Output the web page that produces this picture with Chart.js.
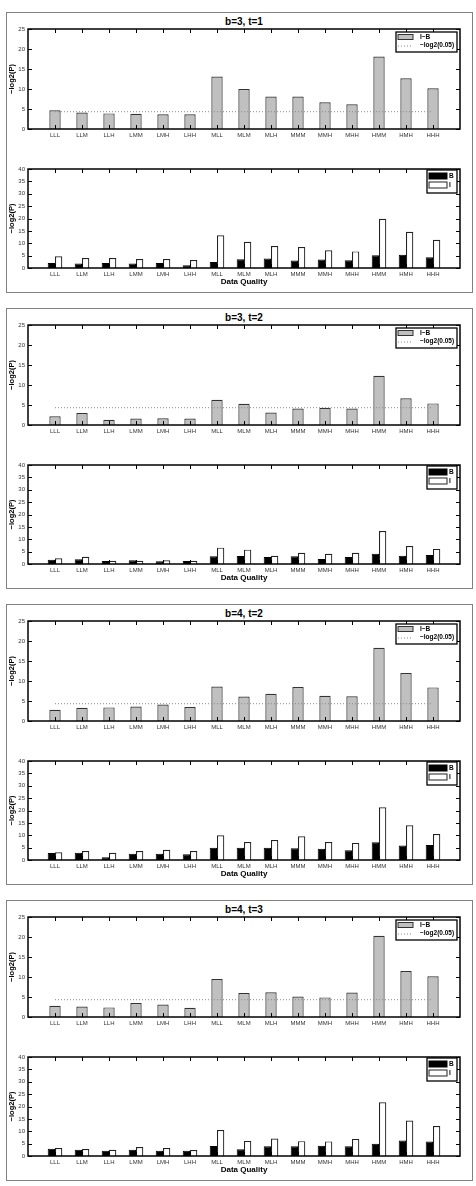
<!DOCTYPE html>
<html>
<head>
<meta charset="utf-8">
<script src="https://cdn.jsdelivr.net/npm/chart.js@4/dist/chart.umd.min.js"></script>
<style>
body { margin: 0; background: #fff; width: 476px; height: 1186px; position: relative; overflow: hidden; font-family: "Liberation Sans", Arial, sans-serif; }
.panel { position: absolute; left: 6px; width: 467px; height: 281px; border: 1.5px solid #808080; box-sizing: border-box; }
.ptitle { position: absolute; left: 28px; width: 432px; text-align: center; font-weight: bold; font-size: 10px; line-height: 12px; }
canvas { position: absolute; left: 0; }
</style>
</head>
<body>
<script>
//------------------------------------
// Data
//------------------------------------

const categories = ["LLL", "LLM", "LLH", "LMM", "LMH", "LHH", "MLL", "MLM", "MLH", "MMM", "MMH", "MHH", "HMM", "HMH", "HHH"];

const panelTitles = ["b=3, t=1", "b=3, t=2", "b=4, t=2", "b=4, t=3"];

// I-B (top charts)
const iMinusB_b3t1 = [4.7, 4.1, 3.9, 3.8, 3.7, 3.7, 13.1, 10.0, 8.1, 8.1, 6.7, 6.2, 18.1, 12.7, 10.2];
const iMinusB_b3t2 = [2.2, 3.0, 1.3, 1.6, 1.7, 1.6, 6.3, 5.3, 3.1, 4.1, 4.3, 4.1, 12.3, 6.7, 5.4];
const iMinusB_b4t2 = [2.8, 3.3, 3.4, 3.6, 4.1, 3.5, 8.6, 6.1, 6.8, 8.5, 6.3, 6.2, 18.3, 12.0, 8.4];
const iMinusB_b4t3 = [2.8, 2.6, 2.4, 3.5, 3.1, 2.3, 9.5, 6.0, 6.2, 5.1, 4.9, 6.1, 20.3, 11.5, 10.2];

// B and I (bottom charts)
const bVals_b3t1 = [2.0, 1.8, 2.0, 1.8, 2.0, 1.1, 2.4, 3.5, 3.8, 3.0, 3.4, 3.1, 5.2, 5.4, 4.3];
const iVals_b3t1 = [4.7, 4.0, 4.0, 3.6, 3.6, 3.2, 13.2, 10.6, 8.9, 8.5, 7.2, 6.7, 19.9, 14.6, 11.4];
const bVals_b3t2 = [1.7, 1.9, 1.2, 1.5, 1.1, 1.2, 3.1, 3.2, 2.8, 3.1, 2.0, 2.8, 4.1, 3.3, 3.6];
const iVals_b3t2 = [2.3, 2.9, 1.3, 1.3, 1.5, 1.3, 6.6, 5.8, 3.3, 4.5, 4.1, 4.5, 13.3, 7.3, 6.1];
const bVals_b4t2 = [2.8, 2.9, 1.1, 2.5, 2.5, 2.3, 4.9, 4.9, 4.9, 4.7, 4.5, 3.9, 7.2, 5.9, 6.1];
const iVals_b4t2 = [3.1, 3.6, 2.9, 3.6, 4.1, 3.6, 10.0, 7.3, 8.1, 9.6, 7.3, 6.9, 21.3, 14.0, 10.5];
const bVals_b4t3 = [2.9, 2.5, 2.1, 2.5, 2.1, 2.1, 4.0, 2.7, 3.9, 3.9, 4.1, 3.9, 4.9, 6.3, 5.9];
const iVals_b4t3 = [3.2, 2.8, 2.5, 3.6, 3.2, 2.4, 10.5, 6.1, 7.1, 6.0, 5.9, 6.9, 21.7, 14.3, 12.1];

const threshold = -Math.log2(0.05);

const panels = [
    { title: panelTitles[0], diff: iMinusB_b3t1, b: bVals_b3t1, i: iVals_b3t1 },
    { title: panelTitles[1], diff: iMinusB_b3t2, b: bVals_b3t2, i: iVals_b3t2 },
    { title: panelTitles[2], diff: iMinusB_b4t2, b: bVals_b4t2, i: iVals_b4t2 },
    { title: panelTitles[3], diff: iMinusB_b4t3, b: bVals_b4t3, i: iVals_b4t3 }
];

//------------------------------------
// Helpers
//------------------------------------

const FONT = "'Liberation Sans', Arial, sans-serif";

// matlab style xlim [0,16]: empty slot at each end
const paddedLabels = [""].concat(categories, [""]);

function pad(arr) {
    return [null].concat(arr, [null]);
}

function line(ctx, x1, y1, x2, y2) {
    ctx.beginPath();
    ctx.moveTo(x1, y1);
    ctx.lineTo(x2, y2);
    ctx.stroke();
}

//------------------------------------
// Matlab-like frame, inward ticks and legend
//------------------------------------

const matlabAxes = {
    id: "matlabAxes",
    afterDatasetsDraw(chart, args, opts) {
        const ctx = chart.ctx;
        const a = chart.chartArea;
        const x = chart.scales.x;
        const y = chart.scales.y;

        ctx.save();
        ctx.strokeStyle = "#000";
        ctx.lineWidth = 1;

        y.ticks.forEach(function (t) {
            const py = Math.round(y.getPixelForValue(t.value)) + 0.5;
            line(ctx, a.left, py, a.left + 4, py);
            line(ctx, a.right - 4, py, a.right, py);
        });

        categories.forEach(function (c, i) {
            const px = Math.round(x.getPixelForValue(i + 1)) + 0.5;
            line(ctx, px, a.top, px, a.top + 4);
            line(ctx, px, a.bottom - 4, px, a.bottom);
        });

        ctx.lineWidth = 1.5;
        ctx.strokeRect(a.left, a.top, a.right - a.left, a.bottom - a.top);

        //------------------------------------
        // legend
        //------------------------------------

        const L = opts.legend;
        const bx = a.right - L.right - L.width;
        const by = a.top + L.top;

        ctx.fillStyle = "#fff";
        ctx.fillRect(bx, by, L.width, L.height);
        ctx.lineWidth = 1.3;
        ctx.strokeStyle = "#000";
        ctx.strokeRect(bx, by, L.width, L.height);

        ctx.font = "bold 6.5px " + FONT;
        ctx.textBaseline = "middle";
        ctx.textAlign = "left";

        L.items.forEach(function (item, k) {
            const ds = chart.data.datasets[item.dataset];
            const cy = by + L.firstRow + k * L.rowGap;
            if (ds.type === "line") {
                ctx.strokeStyle = ds.borderColor;
                ctx.lineWidth = 1;
                ctx.setLineDash(ds.borderDash);
                line(ctx, bx + 2, cy + 0.5, bx + 2 + L.patchW, cy + 0.5);
                ctx.setLineDash([]);
            } else {
                ctx.fillStyle = ds.backgroundColor;
                ctx.fillRect(bx + 2, cy - L.patchH / 2, L.patchW, L.patchH);
                ctx.strokeStyle = ds.borderColor;
                ctx.lineWidth = 1;
                ctx.strokeRect(bx + 2, cy - L.patchH / 2, L.patchW, L.patchH);
            }
            ctx.fillStyle = "#000";
            ctx.fillText(ds.label, bx + L.textX, cy);
        });

        ctx.restore();
    }
};

function scalesFor(maxY, xHeight, showXTitle) {
    return {
        x: {
            type: "category",
            labels: paddedLabels,
            offset: false,
            grid: { display: false, drawTicks: false },
            border: { display: false },
            ticks: {
                autoSkip: false,
                maxRotation: 0,
                padding: 3,
                color: "#333",
                font: { family: FONT, size: 6 }
            },
            title: {
                display: showXTitle,
                text: "Data Quality",
                color: "#000",
                padding: { top: 0, bottom: 3 },
                font: { family: FONT, size: 8, weight: "bold" }
            },
            afterFit: function (s) { s.height = xHeight; }
        },
        y: {
            min: 0,
            max: maxY,
            grid: { display: false, drawTicks: false },
            border: { display: false },
            ticks: {
                stepSize: 5,
                padding: 3,
                color: "#333",
                font: { family: FONT, size: 6 }
            },
            title: {
                display: true,
                text: "\u2212log2(P)",
                color: "#000",
                padding: { top: 7, bottom: 0 },
                font: { family: FONT, size: 7.5, weight: "bold" }
            },
            afterFit: function (s) { s.width = 28; }
        }
    };
}

function makeCanvas(top, height) {
    const c = document.createElement("canvas");
    c.width = 476;
    c.height = height;
    c.style.top = top + "px";
    c.style.width = "476px";
    c.style.height = height + "px";
    document.body.appendChild(c);
    return c;
}

//------------------------------------
// Build the four panels
//------------------------------------

panels.forEach(function (p, k) {

    const T = 12 + k * 296;

    const box = document.createElement("div");
    box.className = "panel";
    box.style.top = T + "px";
    document.body.appendChild(box);

    const title = document.createElement("div");
    title.className = "ptitle";
    title.style.top = (T + 4) + "px";
    title.textContent = p.title;
    document.body.appendChild(title);

    // top chart : I-B with threshold
    new Chart(makeCanvas(T, 129), {
        type: "bar",
        data: {
            labels: paddedLabels,
            datasets: [{
                label: "I\u2212B",
                data: pad(p.diff),
                backgroundColor: "#c0c0c0",
                borderColor: "#333",
                borderWidth: 1.2,
                categoryPercentage: 0.42,
                barPercentage: 1,
                order: 2
            }, {
                type: "line",
                label: "\u2212log2(0.05)",
                data: pad(categories.map(function () { return threshold; })),
                borderColor: "#8a8a8a",
                borderDash: [1, 2],
                borderWidth: 1,
                pointRadius: 0,
                fill: false,
                order: 1
            }]
        },
        options: {
            responsive: false,
            animation: false,
            layout: { padding: { left: 0, right: 16, top: 17, bottom: 0 } },
            plugins: {
                legend: { display: false },
                tooltip: { enabled: false },
                matlabAxes: {
                    legend: {
                        right: 3, top: 3, width: 61, height: 20,
                        firstRow: 5, rowGap: 8.5, patchW: 15, patchH: 5, textX: 24,
                        items: [{ dataset: 0 }, { dataset: 1 }]
                    }
                }
            },
            scales: scalesFor(25, 12, false)
        },
        plugins: [matlabAxes]
    });

    // bottom chart : B and I
    new Chart(makeCanvas(T + 140, 138), {
        type: "bar",
        data: {
            labels: paddedLabels,
            datasets: [{
                label: "B",
                data: pad(p.b),
                backgroundColor: "#000",
                borderColor: "#000",
                borderWidth: 1,
                categoryPercentage: 0.54,
                barPercentage: 1
            }, {
                label: "I",
                data: pad(p.i),
                backgroundColor: "#fff",
                borderColor: "#222",
                borderWidth: 1.2,
                categoryPercentage: 0.54,
                barPercentage: 1
            }]
        },
        options: {
            responsive: false,
            animation: false,
            layout: { padding: { left: 0, right: 16, top: 17, bottom: 0 } },
            plugins: {
                legend: { display: false },
                tooltip: { enabled: false },
                matlabAxes: {
                    legend: {
                        right: 3, top: 1, width: 30, height: 23,
                        firstRow: 6, rowGap: 9, patchW: 18, patchH: 6, textX: 22,
                        items: [{ dataset: 0 }, { dataset: 1 }]
                    }
                }
            },
            scales: scalesFor(40, 22, true)
        },
        plugins: [matlabAxes]
    });

});
</script>
</body>
</html>
